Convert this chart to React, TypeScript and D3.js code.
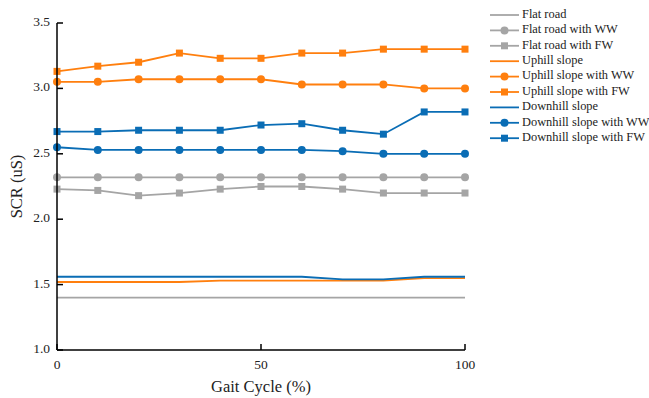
import * as d3 from 'd3'

const WIDTH = 649
const HEIGHT = 398
const MARGIN = { top: 23, right: 184, bottom: 48, left: 57 }

const GAIT = [0, 10, 20, 30, 40, 50, 60, 70, 80, 90, 100]
const X_TICKS = [0, 50, 100]
const Y_TICKS = [1.0, 1.5, 2.0, 2.5, 3.0, 3.5]

const flatRoad = [1.40, 1.40, 1.40, 1.40, 1.40, 1.40, 1.40, 1.40, 1.40, 1.40, 1.40]
const flatWW = [2.32, 2.32, 2.32, 2.32, 2.32, 2.32, 2.32, 2.32, 2.32, 2.32, 2.32]
const flatFW = [2.23, 2.22, 2.18, 2.20, 2.23, 2.25, 2.25, 2.23, 2.20, 2.20, 2.20]
const uphill = [1.52, 1.52, 1.52, 1.52, 1.53, 1.53, 1.53, 1.53, 1.53, 1.55, 1.55]
const uphillWW = [3.05, 3.05, 3.07, 3.07, 3.07, 3.07, 3.03, 3.03, 3.03, 3.00, 3.00]
const uphillFW = [3.13, 3.17, 3.20, 3.27, 3.23, 3.23, 3.27, 3.27, 3.30, 3.30, 3.30]
const downhill = [1.56, 1.56, 1.56, 1.56, 1.56, 1.56, 1.56, 1.54, 1.54, 1.56, 1.56]
const downhillWW = [2.55, 2.53, 2.53, 2.53, 2.53, 2.53, 2.53, 2.52, 2.50, 2.50, 2.50]
const downhillFW = [2.67, 2.67, 2.68, 2.68, 2.68, 2.72, 2.73, 2.68, 2.65, 2.82, 2.82]

const GRAY = '#a5a5a5'
const ORANGE = '#ff7f0e'
const BLUE = '#0a6db5'

type Marker = 'none' | 'circle' | 'square'

const SERIES: { name: string; values: number[]; color: string; marker: Marker }[] = [
  { name: 'Flat road', values: flatRoad, color: GRAY, marker: 'none' },
  { name: 'Flat road with WW', values: flatWW, color: GRAY, marker: 'circle' },
  { name: 'Flat road with FW', values: flatFW, color: GRAY, marker: 'square' },
  { name: 'Uphill slope', values: uphill, color: ORANGE, marker: 'none' },
  { name: 'Uphill slope with WW', values: uphillWW, color: ORANGE, marker: 'circle' },
  { name: 'Uphill slope with FW', values: uphillFW, color: ORANGE, marker: 'square' },
  { name: 'Downhill slope', values: downhill, color: BLUE, marker: 'none' },
  { name: 'Downhill slope with WW', values: downhillWW, color: BLUE, marker: 'circle' },
  { name: 'Downhill slope with FW', values: downhillFW, color: BLUE, marker: 'square' },
]

const FONT = "'Liberation Serif', 'Times New Roman', serif"

const MarkerShape = ({ type, x, y, color }: { type: Marker; x: number; y: number; color: string }) => {
  if (type === 'circle') return <circle cx={x} cy={y} r={4} fill={color} />
  if (type === 'square') return <rect x={x - 3.5} y={y - 3.5} width={7} height={7} fill={color} />
  return null
}

export default function App() {
  const boundsWidth = WIDTH - MARGIN.left - MARGIN.right
  const boundsHeight = HEIGHT - MARGIN.top - MARGIN.bottom

  const xScale = d3.scaleLinear().domain([0, 100]).range([0, boundsWidth])
  const yScale = d3.scaleLinear().domain([1, 3.5]).range([boundsHeight, 0])

  const line = d3
    .line<number>()
    .x((_, i) => xScale(GAIT[i]))
    .y((d) => yScale(d))

  const textStyle = { fontFamily: FONT, fill: '#222' }

  return (
    <svg
      width={WIDTH}
      height={HEIGHT}
      style={{ position: 'absolute', left: 0, top: 0, background: '#fff', fontFamily: FONT }}
    >
      <g transform={`translate(${MARGIN.left},${MARGIN.top})`}>
        {SERIES.map((s) => (
          <g key={s.name}>
            <path d={line(s.values) || ''} fill="none" stroke={s.color} strokeWidth={1.8} />
            {s.values.map((v, i) => (
              <MarkerShape key={i} type={s.marker} x={xScale(GAIT[i])} y={yScale(v)} color={s.color} />
            ))}
          </g>
        ))}

        {/* axes */}
        <line x1={0} x2={boundsWidth} y1={boundsHeight} y2={boundsHeight} stroke="#000" strokeWidth={1.5} />
        <line x1={0} x2={0} y1={0} y2={boundsHeight} stroke="#000" strokeWidth={1.5} />
        {Y_TICKS.map((t) => (
          <g key={t}>
            <line x1={0} x2={6} y1={yScale(t)} y2={yScale(t)} stroke="#000" strokeWidth={1.5} />
            <text x={-7} y={yScale(t)} textAnchor="end" dominantBaseline="middle" fontSize={13.5} style={textStyle}>
              {t.toFixed(1)}
            </text>
          </g>
        ))}
        {X_TICKS.map((t) => (
          <g key={t}>
            <line x1={xScale(t)} x2={xScale(t)} y1={boundsHeight} y2={boundsHeight - 6} stroke="#000" strokeWidth={1.5} />
            <text x={xScale(t)} y={boundsHeight + 19} textAnchor="middle" fontSize={13.5} style={textStyle}>
              {t}
            </text>
          </g>
        ))}
        <text x={boundsWidth / 2} y={boundsHeight + 42} textAnchor="middle" fontSize={16.5} style={textStyle}>
          Gait Cycle (%)
        </text>
        <text
          transform={`translate(${-35},${boundsHeight / 2}) rotate(-90)`}
          textAnchor="middle"
          fontSize={16.5}
          style={textStyle}
        >
          SCR (uS)
        </text>
      </g>

      {/* legend */}
      <g transform="translate(490,15)">
        {SERIES.map((s, i) => (
          <g key={s.name} transform={`translate(0,${i * 15.4})`}>
            <line x1={0} x2={29} y1={0} y2={0} stroke={s.color} strokeWidth={1.8} />
            <MarkerShape type={s.marker} x={14.5} y={0} color={s.color} />
            <text x={32} y={0} dominantBaseline="middle" fontSize={12.4} style={textStyle}>
              {s.name}
            </text>
          </g>
        ))}
      </g>
    </svg>
  )
}
